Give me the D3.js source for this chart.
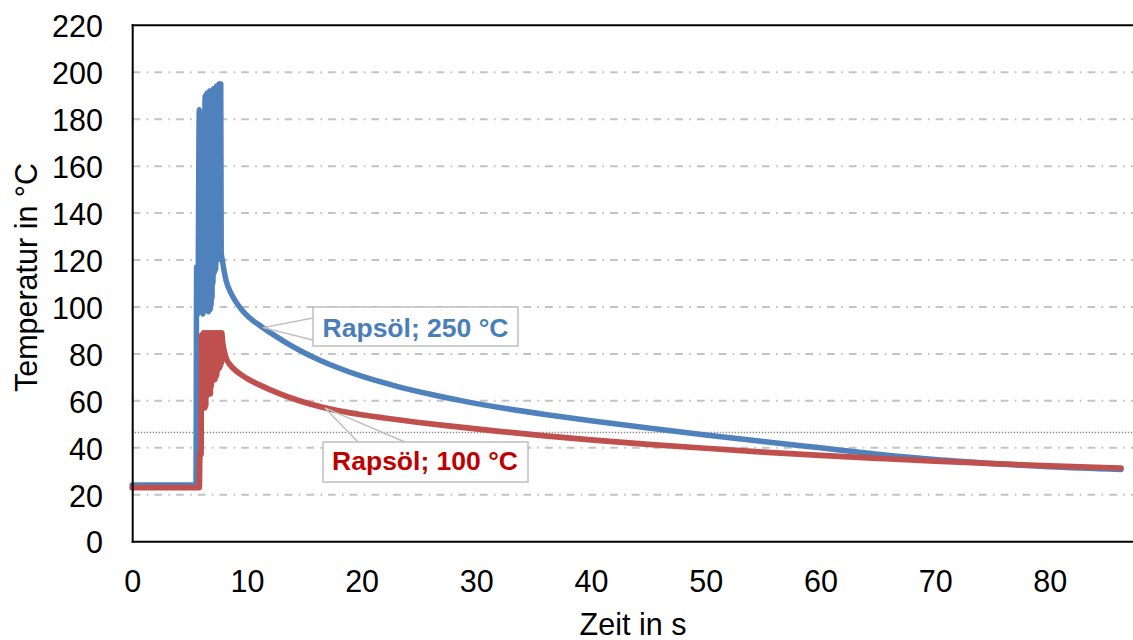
<!DOCTYPE html>
<html>
<head>
<meta charset="utf-8">
<script src="https://cdn.jsdelivr.net/npm/d3@7"></script>
<style>
  html, body { margin: 0; padding: 0; background: #fff; }
  svg { display: block; }
  text { font-family: "Liberation Sans", Arial, sans-serif; }
</style>
</head>
<body>
<svg id="chart" width="1133" height="640"></svg>
<script>
// Temperature curves: rapeseed oil at 250 °C and 100 °C, time in s
const time250 = [0, 5.5, 5.56, 5.62, 5.72, 5.85, 5.95, 6.05, 6.15, 6.25,
  6.36, 6.40, 6.44, 6.48, 6.52, 6.56, 6.60, 6.64, 6.68, 6.72, 6.76, 6.80, 6.84, 6.88, 6.92, 6.96,
  7.00, 7.04, 7.08, 7.12, 7.16, 7.20, 7.24, 7.28, 7.32, 7.36, 7.40, 7.44, 7.48, 7.52, 7.56, 7.60, 7.64, 7.68, 7.72, 7.76,
  7.82, 8.2, 8.6, 9.0, 9.6, 10.2, 11.4, 12.5, 13.7, 15, 16.5, 18, 20, 23, 26, 29, 32, 36, 40, 45, 50, 55, 60, 65, 70, 75, 80, 86.2];
const temp250 = [24.2, 24.2, 24.2, 117, 97, 184, 98, 118, 97, 118,
  190, 100, 190, 99, 191, 100, 191, 98, 191, 100, 192, 99, 192, 101, 192, 104,
  192, 110, 193, 114, 193, 115, 193, 116, 194, 120, 194, 120, 194, 121, 195, 121, 195, 122, 195, 123,
  121, 111, 106, 102.5, 98.5, 95.5, 91.2, 87.6, 84, 80.5, 77, 74, 70.5, 66.3, 62.8, 59.8, 57.2, 54.2, 51.5, 48.4, 45.5, 42.7, 40.0, 37.3, 35.0, 33.3, 31.9, 30.8];

const time100 = [0, 5.8, 5.85, 5.9, 6.0,
  6.05, 6.09, 6.13, 6.17, 6.21, 6.25, 6.29, 6.33, 6.37, 6.41, 6.45, 6.49, 6.53, 6.57, 6.61, 6.65, 6.69, 6.73, 6.77, 6.81,
  6.85, 6.89, 6.93, 6.97, 7.01, 7.05, 7.09, 7.13, 7.17, 7.21, 7.25, 7.29, 7.33, 7.37, 7.41, 7.45, 7.49, 7.53, 7.57, 7.61,
  7.65, 7.69, 7.73, 7.77, 7.81, 7.86,
  7.95, 8.2, 8.5, 9.0, 9.6, 10.2, 11, 12, 13, 14, 15, 16, 17, 18, 19, 20, 22, 25, 28, 32, 36, 40, 45, 50, 55, 60, 65, 70, 75, 80, 86.2];
const temp100 = [23, 23, 23, 38, 37,
  88, 57, 88, 57, 89, 58, 88, 57, 89, 58, 88, 62, 89, 63, 88, 63, 89, 64, 88, 63,
  89, 66, 88, 69, 89, 69, 88, 70, 89, 69, 88, 70, 89, 71, 88, 73, 89, 74, 88, 74,
  89, 75, 89, 76, 89, 86,
  83, 78, 75.5, 73, 70.8, 69, 67, 64.8, 62.8, 61, 59.4, 58, 56.8, 55.8, 54.9, 54.1, 52.7, 50.8, 49.1, 47, 45.1, 43.4, 41.5, 39.8, 38.2, 36.8, 35.5, 34.3, 33.3, 32.3, 31.4];

const yTicks = [0, 20, 40, 60, 80, 100, 120, 140, 160, 180, 200, 220];
const xTicks = [0, 10, 20, 30, 40, 50, 60, 70, 80];
const refLevel = 46.5;

const seriesNames = ["Rapsöl; 250 °C", "Rapsöl; 100 °C"];
const callouts = [
  { name: seriesNames[0], t: 11.4, v: 91.2 },
  { name: seriesNames[1], t: 16.8, v: 57 }
];

// layout
const plotLeft = 132.7, plotTop = 25.3, plotBottom = 541.7, plotRight = 1133;
const x = d3.scaleLinear().domain([0, 87.25]).range([132.2, plotRight]);
const y = d3.scaleLinear().domain([0, 220]).range([plotBottom, plotTop]);

const svg = d3.select("#chart");
const FONT = 30.5;

// grid lines (dash-dot)
svg.append("g")
  .selectAll("line")
  .data(yTicks.filter(d => d > 0 && d < 220))
  .join("line")
  .attr("x1", plotLeft).attr("x2", plotRight)
  .attr("y1", d => y(d)).attr("y2", d => y(d))
  .attr("stroke", "#c3c3c3")
  .attr("stroke-width", 2)
  .attr("stroke-dasharray", "7.7,6.3,1.7,6");

// dotted reference level
svg.append("line")
  .attr("x1", plotLeft + 2).attr("x2", plotRight)
  .attr("y1", y(refLevel)).attr("y2", y(refLevel))
  .attr("stroke", "#8a8a8a")
  .attr("stroke-width", 1.4)
  .attr("stroke-dasharray", "1.4,1.6");

// curves
const line = d3.line()
  .x(d => x(d[0]))
  .y(d => y(d[1]))
  .curve(d3.curveMonotoneX);

const data250 = time250.map((t, i) => [t, temp250[i]]);
const data100 = time100.map((t, i) => [t, temp100[i]]);

const plot = svg.append("g");
plot.append("path")
  .datum(data250)
  .attr("d", line)
  .attr("fill", "none")
  .attr("stroke", "#4f81bd")
  .attr("stroke-width", 5.5)
  .attr("stroke-linejoin", "round")
  .attr("stroke-linecap", "round");
plot.append("path")
  .datum(data100)
  .attr("d", line)
  .attr("fill", "none")
  .attr("stroke", "#c0504d")
  .attr("stroke-width", 5.7)
  .attr("stroke-linejoin", "round")
  .attr("stroke-linecap", "round");

// frame: top border line
svg.append("line")
  .attr("x1", plotLeft - 1).attr("x2", plotRight)
  .attr("y1", plotTop).attr("y2", plotTop)
  .attr("stroke", "#000").attr("stroke-width", 2);

// axes
const yAxis = svg.append("g")
  .attr("transform", `translate(${plotLeft},0)`)
  .call(d3.axisLeft(y).tickValues(yTicks).tickSize(0).tickPadding(29.7));
yAxis.select(".domain").attr("stroke", "#000").attr("stroke-width", 2)
  .attr("d", `M0,${plotTop - 1}V${plotBottom + 1}`);
yAxis.selectAll("text")
  .attr("font-size", FONT)
  .attr("font-family", "Liberation Sans, Arial, sans-serif")
  .attr("fill", "#000")
  .attr("dy", "0.37em");

const xAxis = svg.append("g")
  .attr("transform", `translate(0,${plotBottom})`)
  .call(d3.axisBottom(x).tickValues(xTicks).tickSize(0).tickPadding(28.6));
xAxis.select(".domain").attr("stroke", "#000").attr("stroke-width", 2)
  .attr("d", `M${plotLeft - 1},0H${plotRight}`);
xAxis.selectAll("text")
  .attr("font-size", FONT)
  .attr("font-family", "Liberation Sans, Arial, sans-serif")
  .attr("fill", "#000");

// axis titles
svg.append("text")
  .attr("transform", "translate(37,277.5) rotate(-90)")
  .attr("text-anchor", "middle")
  .attr("font-size", FONT)
  .attr("fill", "#000")
  .text("Temperatur in °C");

svg.append("text")
  .attr("x", 633).attr("y", 635)
  .attr("text-anchor", "middle")
  .attr("font-size", FONT)
  .attr("fill", "#000")
  .text("Zeit in s");

// callouts
const boxes = [
  { box: [313, 307, 205, 39], base: [[313, 318], [313, 340]], color: "#4a7ebb", tx: 415.5, ty: 336.5 },
  { box: [323, 442, 205, 40], base: [[358, 442], [405, 442]], color: "#c00000", tx: 425, ty: 470 }
];
callouts.forEach((c, i) => {
  const b = boxes[i];
  const tip = [x(c.t), y(c.v)];
  const g = svg.append("g");
  g.append("path")
    .attr("d", `M${b.base[0][0]},${b.base[0][1]}L${tip[0]},${tip[1]}L${b.base[1][0]},${b.base[1][1]}`)
    .attr("fill", "none")
    .attr("stroke", "#bfbfbf")
    .attr("stroke-width", 1.5);
  g.append("rect")
    .attr("x", b.box[0]).attr("y", b.box[1])
    .attr("width", b.box[2]).attr("height", b.box[3])
    .attr("fill", "#fff")
    .attr("stroke", "#bfbfbf")
    .attr("stroke-width", 1.5);
  g.append("text")
    .attr("x", b.tx).attr("y", b.ty)
    .attr("text-anchor", "middle")
    .attr("font-size", 26.5)
    .attr("font-weight", "bold")
    .attr("fill", b.color)
    .text(c.name);
});
</script>
</body>
</html>
